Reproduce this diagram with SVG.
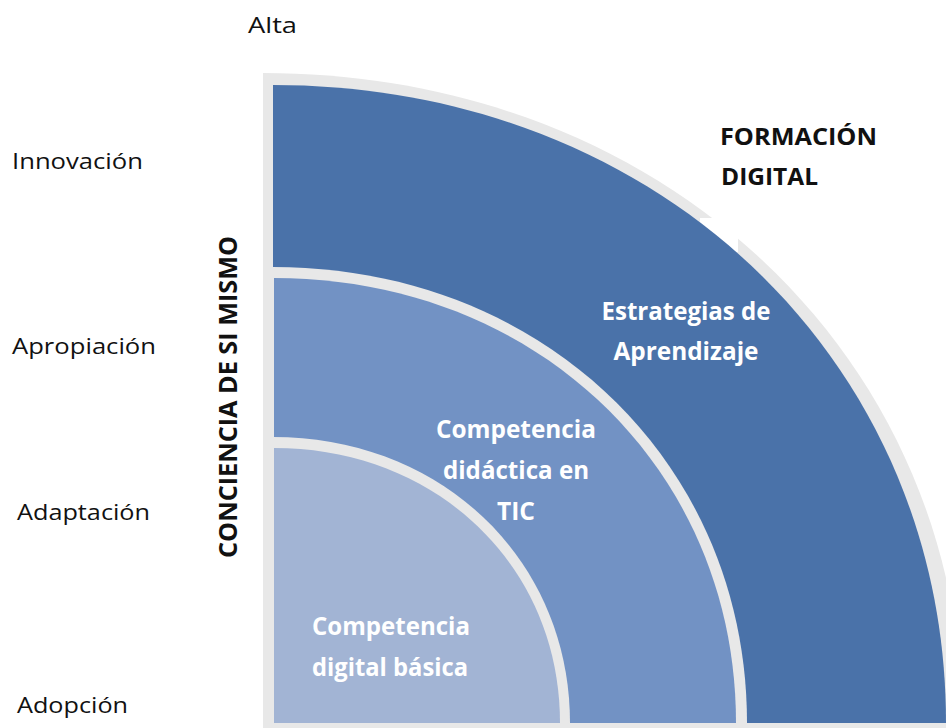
<svg xmlns="http://www.w3.org/2000/svg" width="946" height="728" viewBox="0 0 946 728">
<style>
.lab{font-family:"Open Sans","Noto Sans","DejaVu Sans",sans-serif;font-size:21px;fill:#111;}
.bold{font-family:"Open Sans","Noto Sans","DejaVu Sans",sans-serif;font-weight:bold;}
.wt{font-family:"Open Sans","Noto Sans","DejaVu Sans",sans-serif;font-weight:bold;font-size:25px;fill:#fff;text-anchor:middle;}
.strip{fill:#e8e8e8;}
</style>
<rect width="946" height="728" fill="#fff"/>
<g id="frame">
<path class="strip" d="M263,728 V73 C662,73 963,354.7 963,728 Z"/>
<rect x="700" y="218" width="38" height="34" fill="#fff"/>
</g>
<g id="band-estrategias">
<path d="M273,723 V85 C656.6,85 946,359.3 946,723 Z" fill="#4a72a9"/>
<path class="strip" d="M273,723 V267 C543.2,267 747,463.1 747,723 Z"/>
<text class="wt" x="686" y="320" textLength="169" lengthAdjust="spacingAndGlyphs">Estrategias de</text>
<text class="wt" x="686" y="360" textLength="145" lengthAdjust="spacingAndGlyphs">Aprendizaje</text>
</g>
<g id="band-didactica">
<path d="M274,723 V278 C537.3,278 736,469.4 736,723 Z" fill="#7292c4"/>
<path class="strip" d="M273,723 V437 C442.3,437 570,560 570,723 Z"/>
<text class="wt" x="516" y="438" textLength="160" lengthAdjust="spacingAndGlyphs">Competencia</text>
<text class="wt" x="516" y="479" textLength="146" lengthAdjust="spacingAndGlyphs">didáctica en</text>
<text class="wt" x="516" y="520" textLength="38" lengthAdjust="spacingAndGlyphs">TIC</text>
</g>
<g id="band-basica">
<path d="M274,723 V448 C437,448 560,566.3 560,723 Z" fill="#a2b4d4"/>
<text class="wt" x="391" y="635" textLength="158" lengthAdjust="spacingAndGlyphs">Competencia</text>
<text class="wt" x="390" y="676" textLength="156" lengthAdjust="spacingAndGlyphs">digital básica</text>
</g>
<g id="title-formacion">
<text class="bold" x="720" y="145" font-size="23" fill="#111" textLength="157" lengthAdjust="spacingAndGlyphs">FORMACIÓN</text>
<text class="bold" x="721" y="185" font-size="23" fill="#111" textLength="97" lengthAdjust="spacingAndGlyphs">DIGITAL</text>
</g>
<g id="axis-conciencia">
<text class="bold" font-size="25" fill="#111" text-anchor="middle" transform="translate(237,397) rotate(-90)" textLength="322" lengthAdjust="spacingAndGlyphs">CONCIENCIA DE SI MISMO</text>
</g>
<g id="levels">
<text class="lab" x="248" y="33" textLength="49" lengthAdjust="spacingAndGlyphs">Alta</text>
<text class="lab" x="12" y="169" textLength="131" lengthAdjust="spacingAndGlyphs">Innovación</text>
<text class="lab" x="12" y="354" textLength="144" lengthAdjust="spacingAndGlyphs">Apropiación</text>
<text class="lab" x="17" y="520" textLength="133" lengthAdjust="spacingAndGlyphs">Adaptación</text>
<text class="lab" x="17" y="713" textLength="111" lengthAdjust="spacingAndGlyphs">Adopción</text>
</g>
</svg>
